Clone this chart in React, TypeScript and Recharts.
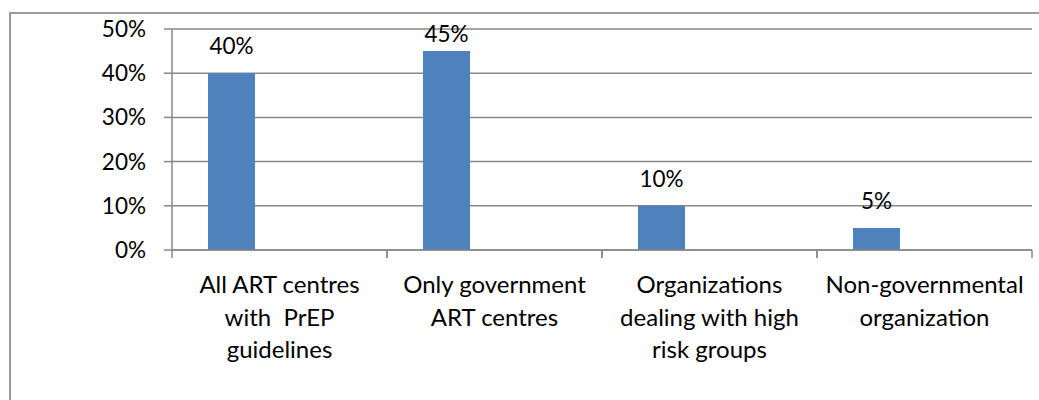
import React from "react";
import { BarChart, Bar, XAxis, YAxis, CartesianGrid, LabelList } from "recharts";

// categories (line breaks as in the original labels)
const categories = [
  "All ART centres\nwith  PrEP\nguidelines",
  "Only government\nART centres",
  "Organizations\ndealing with high\nrisk groups",
  "Non-governmental\norganization",
];
const shares = [40, 45, 10, 5];
// the source chart has an empty second series, which pushes the bars left in each slot
const blankSeries: (number | null)[] = [null, null, null, null];
const yTicks = [0, 10, 20, 30, 40, 50];

const data = categories.map((name, i) => ({
  name,
  share: shares[i],
  blank: blankSeries[i],
}));

const FONT = "Lato, 'Open Sans', sans-serif";
const AXIS_GREY = "#888888";
const BAR_BLUE = "#4F81BD";

const CategoryTick = (props: any) => {
  const { x, y, payload } = props;
  const half = payload && payload.offset ? payload.offset : 107.5;
  const lines: string[] = String(payload.value).split("\n");
  return (
    <g>
      <line x1={x - half} y1={y} x2={x - half} y2={y + 8} stroke={AXIS_GREY} strokeWidth={1.5} />
      <line x1={x + half} y1={y} x2={x + half} y2={y + 8} stroke={AXIS_GREY} strokeWidth={1.5} />
      <text x={x} y={y + 43} textAnchor="middle" fill="#000" fontSize={24} fontFamily={FONT}>
        {lines.map((line, i) => (
          <tspan key={i} x={x} dy={i === 0 ? 0 : 32.5} style={{ whiteSpace: "pre" }}>
            {line}
          </tspan>
        ))}
      </text>
    </g>
  );
};

const ValueLabel = (props: any) => {
  const { x, y, width, value } = props;
  if (value == null) return null;
  // Excel keeps the top label inside the plot area
  const ty = Math.max(y - 19, 42);
  return (
    <text x={x + width / 2} y={ty} textAnchor="middle" fill="#000" fontSize={22.5} fontFamily={FONT}>
      {`${value}%`}
    </text>
  );
};

export default function App() {
  return (
    <div style={{ position: "absolute", left: 0, top: 0, width: 1039, height: 400, background: "#fff", overflow: "hidden" }}>
      <div
        style={{
          position: "absolute",
          left: 9,
          top: 12,
          width: 1100,
          height: 500,
          borderLeft: "2px solid #9c9c9c",
          borderTop: "2px solid #9c9c9c",
        }}
      />
      <BarChart
        width={1039}
        height={400}
        data={data}
        margin={{ top: 29, right: 7, bottom: 0, left: 0 }}
        barSize={47}
        barGap={49}
        style={{ position: "absolute", left: 0, top: 0 }}
      >
        <CartesianGrid vertical={false} stroke={AXIS_GREY} strokeWidth={1.5} />
        <XAxis
          dataKey="name"
          interval={0}
          tickSize={0}
          tickMargin={0}
          tickLine={false}
          axisLine={{ stroke: AXIS_GREY, strokeWidth: 1.5 }}
          tick={<CategoryTick />}
          height={150}
        />
        <YAxis
          width={172}
          domain={[0, 50]}
          ticks={yTicks}
          interval={0}
          tickFormatter={(v: number) => `${v}%`}
          tickSize={8}
          tickMargin={18}
          tickLine={{ stroke: AXIS_GREY, strokeWidth: 1.5 }}
          axisLine={{ stroke: AXIS_GREY, strokeWidth: 1.5 }}
          tick={{ fill: "#000", fontSize: 22.5, fontFamily: FONT }}
        />
        <Bar dataKey="share" fill={BAR_BLUE} isAnimationActive={false}>
          <LabelList dataKey="share" content={<ValueLabel />} />
        </Bar>
        <Bar dataKey="blank" fill={BAR_BLUE} isAnimationActive={false} />
      </BarChart>
    </div>
  );
}
